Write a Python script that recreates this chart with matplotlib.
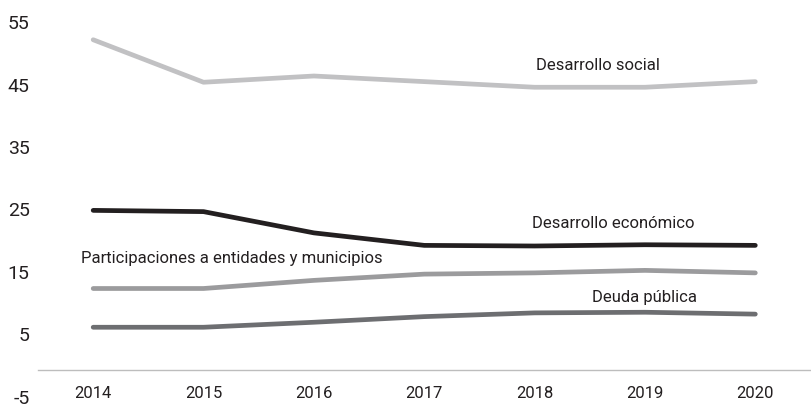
import numpy as np
import matplotlib
matplotlib.use("Agg")
import matplotlib.pyplot as plt
from matplotlib.transforms import ScaledTranslation

plt.rcParams['font.family'] = ['Roboto', 'DejaVu Sans']
plt.rcParams['axes.unicode_minus'] = False

years = [2014, 2015, 2016, 2017, 2018, 2019, 2020]
desarrollo_social = [52.8, 46.0, 47.0, 46.1, 45.2, 45.2, 46.1]
desarrollo_economico = [25.5, 25.3, 21.9, 19.9, 19.8, 20.0, 19.9]
participaciones = [13.0, 13.0, 14.3, 15.3, 15.5, 15.9, 15.5]
deuda_publica = [6.8, 6.8, 7.6, 8.5, 9.1, 9.2, 8.9]
yticks = [-5, 5, 15, 25, 35, 45, 55]

fig = plt.figure(figsize=(8.11, 4.06), dpi=100)
ax = fig.add_axes([38/811, 4/406, 778/811, 375/406])

series = [
    (desarrollo_social, "#c1c1c3"),
    (desarrollo_economico, "#231f20"),
    (participaciones, "#9b9b9d"),
    (deuda_publica, "#6d6e71"),
]
for vals, col in series:
    ax.plot(years, vals, color=col, lw=3.4, solid_capstyle='round',
            solid_joinstyle='round')

ax.set_xlim(2013.5, 2020.55)
ax.set_ylim(-5, 55)
ax.set_yticks(yticks)
ax.set_xticks(years)
ax.tick_params(axis='y', length=0, labelsize=14, pad=6, labelcolor='#231f20')
ax.tick_params(axis='x', length=0, labelsize=12, pad=11, labelcolor='#231f20')

# y labels sit a little above their levels in the original
off = ScaledTranslation(0, 5/100, fig.dpi_scale_trans)
for lab in ax.get_yticklabels():
    lab.set_transform(lab.get_transform() + off)

for s in ['top', 'right', 'left']:
    ax.spines[s].set_visible(False)
ax.spines['bottom'].set_position(('data', 0))
ax.spines['bottom'].set_color('#bdbdbd')
ax.spines['bottom'].set_linewidth(1.0)

tk = dict(fontsize=12, color='#231f20', va='center', ha='left')
ax.text(2018.01, 48.8, "Desarrollo social", **tk)
ax.text(2017.98, 23.6, "Desarrollo económico", **tk)
ax.text(2013.89, 17.9, "Participaciones a entidades y municipios", **tk)
ax.text(2018.52, 11.7, "Deuda pública", **tk)

fig.savefig("out.png", dpi=100)
